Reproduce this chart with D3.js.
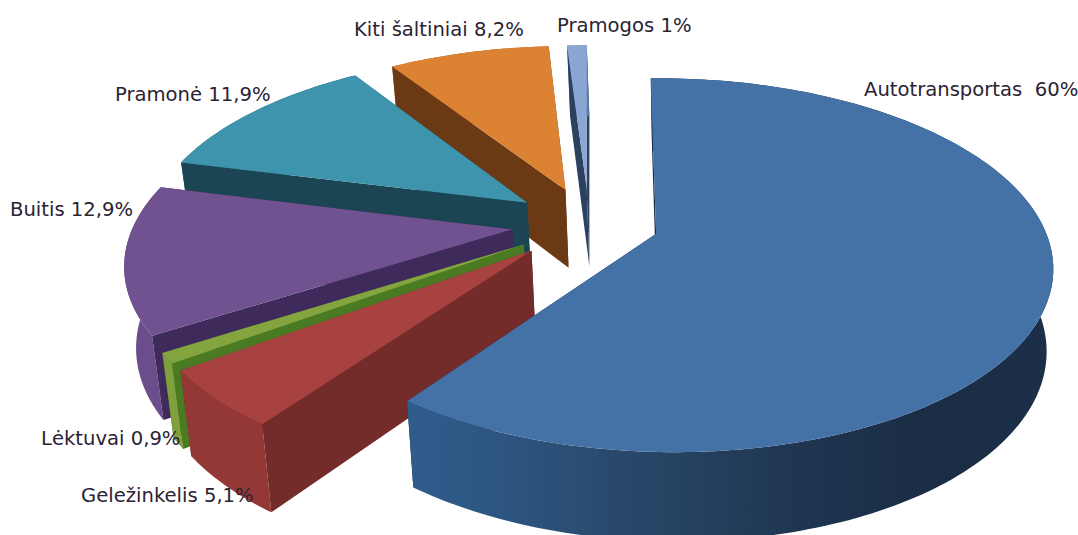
<!DOCTYPE html>
<html>
<head>
<meta charset="utf-8">
<script src="https://cdn.jsdelivr.net/npm/d3@7/dist/d3.min.js"></script>
<style>
html,body{margin:0;padding:0;background:#fff;}
svg{display:block;}
text{font-family:"DejaVu Sans",sans-serif;font-size:19.6px;fill:#2b2333;white-space:pre;}
</style>
</head>
<body>
<svg id="chart" width="1078" height="535"></svg>
<script>
// Emission shares by source, clockwise from twelve o'clock
const categories = ["Autotransportas","Geležinkelis","Lėktuvai","Buitis","Pramonė","Kiti šaltiniai","Pramogos"];
const shares = [60, 5.1, 0.9, 12.9, 11.9, 8.2, 1];
const separators = ["  "," "," "," "," "," "," "];

const topColors  = ["#4471a6","#a84240","#84a440","#6f528f","#3d94ac","#dc8333","#8aa7d4"];
const rimColors  = ["url(#rimBlue)","#933836","#80a03c","#6a4e8b","#2a6d80","#a8601f","#5d7ba8"];
const sideColors = ["#16294a","#742c2a","#4a7a22","#3f2a5c","#1b4553","#6b3a15","#2c405f"];

const labelAnchors = [[864,96],[81,502],[41,445],[10,216],[115,101],[354,36],[557,32]];

// Per-wedge view settings: pull-out distance, radius, sideways lean and turn towards the viewer
const explodes = [0.18,0.205,0.2,0.2,0.2,0.2,0.2];
const radii    = [0.975,0.965,0.97,0.978,0.985,0.975,0.97];
const leans    = [0.016,0.03,0.03,0.03,0.03,0.03,0.03];
const yaws     = [0.025,0,0,0,0,0,0];

const PERSPECTIVE = 0.173, DEPTH = 80, DEPTH_FALLOFF = 0.6;
const CENTER = [-0.168,-0.078];
const VANISH_X = 720, BOTTOM_SHRINK = 0.98;

const sx = d3.scaleLinear().domain([0,1]).range([655,1047]);
const sy = d3.scaleLinear().domain([0,1]).range([238,425.7]);

// Ground-plane point to screen, at the top face or the bottom face of the disc
function project(u,v,i,bottom){
  const w = 1 - PERSPECTIVE*v - yaws[i]*u;
  const x = sx((u+leans[i]*v)/w), y = sy(v/w);
  return bottom
    ? [VANISH_X + (x-VANISH_X)*BOTTOM_SHRINK, y + DEPTH/Math.pow(w,DEPTH_FALLOFF)]
    : [x,y];
}

const pie = d3.pie().sort(null).startAngle(0).endAngle(2*Math.PI);
const slices = pie(shares);
const line = d3.line().curve(d3.curveLinear);
const svg = d3.select("#chart");

const defs = svg.append("defs");
const grad = defs.append("linearGradient").attr("id","rimBlue")
  .attr("gradientUnits","userSpaceOnUse").attr("x1",410).attr("x2",1050).attr("y1",0).attr("y2",0);
[[0,"#305c8c"],[0.15,"#2d5580"],[0.35,"#284768"],[0.6,"#1f3651"],[0.8,"#1a2d45"],[1,"#1b2f48"]]
  .forEach(([o,c])=>grad.append("stop").attr("offset",o).attr("stop-color",c));

function geometry(d,i){
  const mid = (d.startAngle+d.endAngle)/2;
  const ox = CENTER[0]+explodes[i]*Math.sin(mid), oy = CENTER[1]-explodes[i]*Math.cos(mid);
  const n = Math.max(2,Math.ceil((d.endAngle-d.startAngle)/0.02));
  const arc = d3.range(n+1).map(k=>{
    const a = d.startAngle+(d.endAngle-d.startAngle)*k/n;
    return [ox+radii[i]*Math.sin(a), oy-radii[i]*Math.cos(a)];
  });
  return {apex:[ox,oy],arc};
}

// Painted back to front so nearer wedges cover the farther ones
const order = [6,5,4,3,2,1,0];
order.forEach(i=>{
  const upper = ([u,v])=>project(u,v,i,false);
  const lower = ([u,v])=>project(u,v,i,true);
  const g = svg.append("g").attr("class","slice");
  const {apex,arc} = geometry(slices[i],i);
  const first = arc[0], last = arc[arc.length-1];
  // far radial wall
  g.append("path").attr("d",line([upper(apex),upper(last),lower(last),lower(apex)])+"Z")
    .attr("fill",sideColors[i]);
  // rounded rim
  g.append("path").attr("d",line([...arc.map(upper),...arc.slice().reverse().map(lower)])+"Z")
    .attr("fill",rimColors[i]);
  // near radial wall
  g.append("path").attr("d",line([upper(apex),upper(first),lower(first),lower(apex)])+"Z")
    .attr("fill",sideColors[i]);
  // top face
  g.append("path").attr("d",line([upper(apex),...arc.map(upper)])+"Z")
    .attr("fill",topColors[i]);
});

const fmt = d3.formatLocale({decimal:",",thousands:" ",grouping:[3],currency:["",""]}).format("~g");
svg.append("g").selectAll("text").data(categories).join("text")
  .attr("x",(d,i)=>labelAnchors[i][0])
  .attr("y",(d,i)=>labelAnchors[i][1])
  .text((d,i)=>d+separators[i]+fmt(shares[i])+"%");
</script>
</body>
</html>
